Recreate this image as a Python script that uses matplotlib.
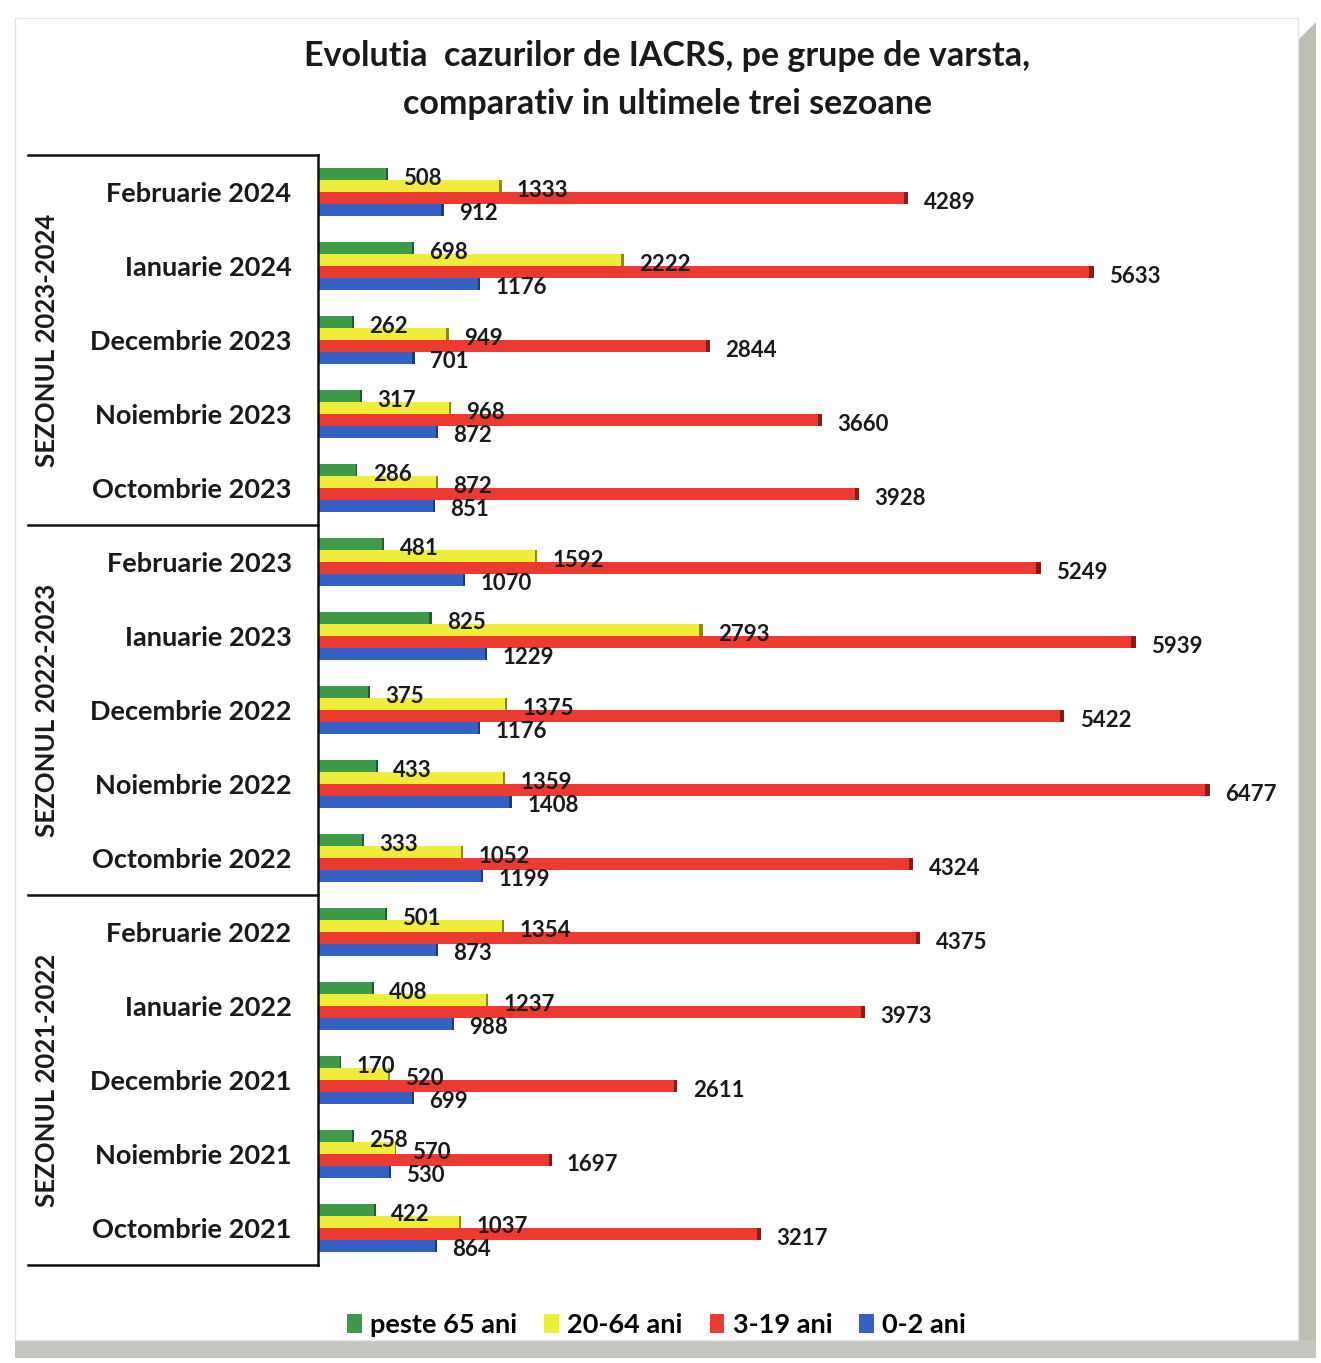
import matplotlib
matplotlib.use("Agg")
import matplotlib.pyplot as plt
import matplotlib.transforms as mtransforms
from matplotlib.patches import Rectangle, Polygon
import numpy as np

plt.rcParams['font.family'] = ['Lato', 'DejaVu Sans']

# Months, top to bottom
months = [
    "Februarie 2024", "Ianuarie 2024", "Decembrie 2023", "Noiembrie 2023", "Octombrie 2023",
    "Februarie 2023", "Ianuarie 2023", "Decembrie 2022", "Noiembrie 2022", "Octombrie 2022",
    "Februarie 2022", "Ianuarie 2022", "Decembrie 2021", "Noiembrie 2021", "Octombrie 2021",
]
seasons = ["SEZONUL 2023-2024", "SEZONUL 2022-2023", "SEZONUL 2021-2022"]

series_names = ["peste 65 ani", "20-64 ani", "3-19 ani", "0-2 ani"]
peste_65 = [508, 698, 262, 317, 286, 481, 825, 375, 433, 333, 501, 408, 170, 258, 422]
ani_20_64 = [1333, 2222, 949, 968, 872, 1592, 2793, 1375, 1359, 1052, 1354, 1237, 520, 570, 1037]
ani_3_19 = [4289, 5633, 2844, 3660, 3928, 5249, 5939, 5422, 6477, 4324, 4375, 3973, 2611, 1697, 3217]
ani_0_2 = [912, 1176, 701, 872, 851, 1070, 1229, 1176, 1408, 1199, 873, 988, 699, 530, 864]

colors = ["#3d9a48", "#f0ec3a", "#ec3a32", "#3461c6"]
edge_colors = ["#1f5e27", "#8a8a10", "#8a1a16", "#1c3a80"]

W, H = 1321, 1363
fig = plt.figure(figsize=(W / 100, H / 100), dpi=100, facecolor="white")

# page with a shadow on the right and bottom edges
fig.patches.append(Polygon([(1298 / W, 1 - 40 / H), (1316 / W, 1 - 22 / H),
                            (1316 / W, 1 - 1356 / H), (1298 / W, 1 - 1356 / H)],
                           closed=True, transform=fig.transFigure,
                           facecolor="#bcc0b4", edgecolor="none", zorder=-3))
fig.patches.append(Rectangle((15 / W, 1 - 1358 / H), 1301 / W, 18 / H,
                             transform=fig.transFigure, facecolor="#c4c6c0",
                             edgecolor="none", zorder=-3))
fig.patches.append(Rectangle((15 / W, 1 - 1340 / H), 1283 / W, 1322 / H,
                             transform=fig.transFigure, facecolor="white",
                             edgecolor="#e4e4e4", lw=1, zorder=-2))

ax_left, ax_right = 318 / W, 1290 / W
ax_top, ax_bottom = 1 - 155 / H, 1 - 1265 / H
ax = fig.add_axes([ax_left, ax_bottom, ax_right - ax_left, ax_top - ax_bottom])
ax.set_facecolor("none")
ax.set_zorder(1)

n = len(months)
y = np.arange(n)
bar_h = 0.16
offsets = [-1.5 * bar_h, -0.5 * bar_h, 0.5 * bar_h, 1.5 * bar_h]
data = [peste_65, ani_20_64, ani_3_19, ani_0_2]

handles = []
for vals, off, c, ec, name in zip(data, offsets, colors, edge_colors, series_names):
    bars = ax.barh(y + off, vals, height=bar_h, color=c, edgecolor="none", label=name, zorder=2)
    handles.append(bars)
    # darker end caps
    cap = [v * 0.004 + 12 for v in vals]
    ax.barh(y + off, cap, left=[v - w for v, w in zip(vals, cap)],
            height=bar_h, color=ec, edgecolor="none", zorder=3)
    for yi, v in zip(y + off, vals):
        ax.annotate(f"{v}", xy=(v, yi), xytext=(11, -3), textcoords="offset points",
                    ha="left", va="center", fontsize=16, fontweight="bold", color="#1a1a1a",
                    zorder=4)

ax.set_xlim(0, 7060)
ax.set_ylim(n - 0.5, -0.5)
ax.set_xticks([])
ax.set_yticks(y)
ax.set_yticklabels(months, fontsize=19.5, fontweight="bold", color="#1a1a1a")
ax.tick_params(axis="y", length=0, pad=19)
for s in ["top", "right", "bottom"]:
    ax.spines[s].set_visible(False)
ax.spines["left"].set_linewidth(1.8)
ax.spines["left"].set_color("#111111")

# season bands: separator lines and rotated season names
tr = mtransforms.blended_transform_factory(fig.transFigure, ax.transData)
line_x0 = 28 / W
for b in [-0.5, 4.5, 9.5, 14.5]:
    ax.plot([line_x0, ax_left], [b, b], transform=tr, color="#111111", lw=1.8,
            clip_on=False, zorder=5)
for i, s in enumerate(seasons):
    ax.text(47 / W, 5 * i + 2, s, transform=tr, rotation=90, ha="center", va="center",
            fontsize=18.5, fontweight="bold", color="#1a1a1a")

fig.text(0.505, 1 - 56 / H, "Evolutia  cazurilor de IACRS, pe grupe de varsta,",
         ha="center", va="center", fontsize=24.5, fontweight="bold", color="#1a1a1a")
fig.text(0.505, 1 - 104 / H, "comparativ in ultimele trei sezoane",
         ha="center", va="center", fontsize=24.5, fontweight="bold", color="#1a1a1a")

fig.legend(handles=handles, labels=series_names, loc="center", ncol=4,
           bbox_to_anchor=(0.497, 1 - 1325 / H), frameon=False,
           prop={"size": 19.5, "weight": "bold"}, handlelength=0.55, handleheight=0.75,
           handletextpad=0.3, columnspacing=1.0)

fig.savefig("out.png", dpi=100, facecolor="white")
